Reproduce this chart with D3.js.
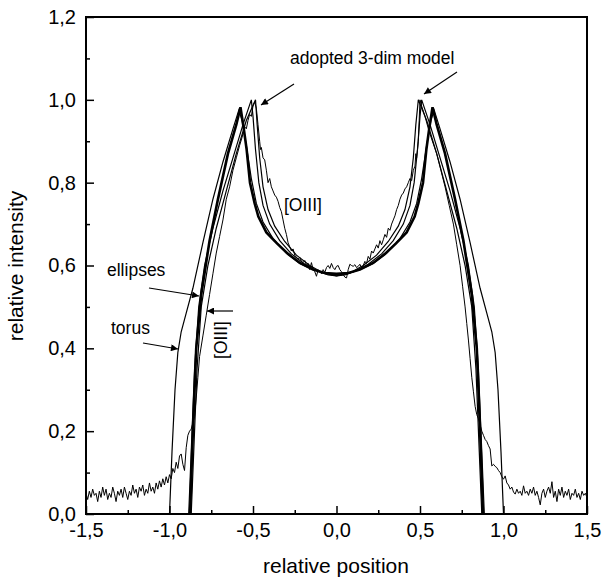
<!DOCTYPE html>
<html>
<head>
<meta charset="utf-8">
<script src="https://cdn.jsdelivr.net/npm/d3@7"></script>
<style>
  body { margin: 0; background: #fff; }
  svg text { font-family: "Liberation Sans", Arial, sans-serif; fill: #000; }
</style>
</head>
<body>
<svg id="chart" width="605" height="579"></svg>
<script>
// tick values
const xMajor = [-1.5, -1.0, -0.5, 0.0, 0.5, 1.0, 1.5];
const xMinor = [-1.25, -0.75, -0.25, 0.25, 0.75, 1.25];
const yMajor = [0.0, 0.2, 0.4, 0.6, 0.8, 1.0, 1.2];
const yMinor = [0.1, 0.3, 0.5, 0.7, 0.9, 1.1];

// observed [OIII] profile (noisy)
const observed = [
  [-1.50,0.050],[-1.49,0.035],[-1.48,0.055],[-1.47,0.040],[-1.46,0.060],[-1.45,0.045],[-1.44,0.050],[-1.43,0.030],
  [-1.42,0.055],[-1.41,0.040],[-1.40,0.065],[-1.39,0.045],[-1.38,0.060],[-1.37,0.035],[-1.36,0.050],[-1.35,0.040],
  [-1.34,0.065],[-1.33,0.050],[-1.32,0.030],[-1.31,0.055],[-1.30,0.045],[-1.29,0.060],[-1.28,0.040],[-1.27,0.065],
  [-1.26,0.050],[-1.25,0.035],[-1.24,0.055],[-1.23,0.045],[-1.22,0.070],[-1.21,0.050],[-1.20,0.060],[-1.19,0.040],
  [-1.18,0.065],[-1.17,0.055],[-1.16,0.070],[-1.15,0.045],[-1.14,0.060],[-1.13,0.050],[-1.12,0.075],[-1.11,0.055],
  [-1.10,0.065],[-1.09,0.050],[-1.08,0.075],[-1.07,0.060],[-1.06,0.080],[-1.05,0.065],[-1.04,0.085],[-1.03,0.070],
  [-1.02,0.090],[-1.01,0.075],[-1.00,0.095],[-0.99,0.085],[-0.98,0.110],[-0.97,0.100],[-0.96,0.125],[-0.95,0.110],
  [-0.94,0.140],[-0.93,0.145],[-0.92,0.120],[-0.91,0.105],[-0.90,0.160],[-0.89,0.190],[-0.88,0.200],[-0.87,0.205],
  [-0.86,0.220],[-0.85,0.235],[-0.84,0.280],[-0.83,0.330],[-0.82,0.380],[-0.80,0.430],[-0.78,0.480],[-0.76,0.530],
  [-0.74,0.580],[-0.72,0.630],[-0.70,0.670],[-0.68,0.710],[-0.66,0.760],[-0.64,0.790],[-0.62,0.830],[-0.60,0.860],
  [-0.58,0.890],[-0.565,0.910],[-0.55,0.935],[-0.54,0.930],[-0.53,0.950],[-0.52,0.965],[-0.51,0.960],[-0.50,0.985],
  [-0.49,0.995],[-0.48,0.980],[-0.47,0.940],[-0.46,0.900],[-0.455,0.880],[-0.45,0.885],[-0.44,0.860],[-0.43,0.855],
  [-0.42,0.830],[-0.41,0.800],[-0.40,0.810],[-0.39,0.790],[-0.38,0.780],[-0.37,0.770],[-0.36,0.765],[-0.35,0.755],
  [-0.34,0.740],[-0.33,0.730],[-0.32,0.710],[-0.31,0.690],[-0.30,0.675],[-0.29,0.655],[-0.28,0.645],[-0.27,0.635],
  [-0.26,0.640],[-0.25,0.625],[-0.24,0.620],[-0.23,0.615],[-0.22,0.620],[-0.21,0.610],[-0.20,0.607],[-0.19,0.612],
  [-0.18,0.600],[-0.17,0.605],[-0.16,0.590],[-0.15,0.607],[-0.14,0.590],[-0.13,0.585],[-0.12,0.574],[-0.11,0.590],
  [-0.10,0.585],[-0.09,0.580],[-0.08,0.590],[-0.07,0.583],[-0.06,0.595],[-0.05,0.600],[-0.04,0.593],[-0.03,0.605],
  [-0.02,0.595],[-0.01,0.590],[0.00,0.598],[0.01,0.600],[0.02,0.590],[0.03,0.585],[0.04,0.578],[0.05,0.572],
  [0.06,0.570],[0.07,0.590],[0.08,0.603],[0.09,0.600],[0.10,0.598],[0.11,0.602],[0.12,0.595],[0.13,0.598],
  [0.14,0.603],[0.15,0.594],[0.16,0.600],[0.17,0.610],[0.18,0.605],[0.19,0.622],[0.20,0.615],[0.21,0.635],
  [0.22,0.630],[0.23,0.640],[0.24,0.650],[0.25,0.642],[0.26,0.660],[0.27,0.650],[0.28,0.662],[0.29,0.675],
  [0.30,0.668],[0.31,0.690],[0.32,0.685],[0.33,0.700],[0.34,0.710],[0.35,0.720],[0.36,0.735],[0.37,0.745],
  [0.38,0.760],[0.39,0.770],[0.40,0.775],[0.41,0.785],[0.42,0.790],[0.43,0.800],[0.44,0.810],[0.45,0.805],
  [0.46,0.830],[0.47,0.840],[0.475,0.870],[0.48,0.860],[0.49,0.900],[0.495,0.950],[0.50,1.000],[0.51,0.985],
  [0.53,0.960],[0.55,0.930],[0.57,0.905],[0.60,0.870],[0.625,0.830],[0.65,0.790],[0.675,0.745],[0.70,0.700],
  [0.72,0.650],[0.74,0.600],[0.755,0.550],[0.77,0.500],[0.78,0.460],[0.79,0.420],[0.80,0.375],[0.81,0.330],
  [0.82,0.295],[0.83,0.260],[0.84,0.240],[0.85,0.230],[0.86,0.215],[0.87,0.200],[0.88,0.190],[0.89,0.180],
  [0.90,0.175],[0.91,0.165],[0.92,0.157],[0.93,0.116],[0.94,0.120],[0.95,0.115],[0.96,0.112],[0.97,0.105],
  [0.98,0.100],[0.99,0.090],[1.00,0.084],[1.01,0.092],[1.02,0.075],[1.03,0.070],[1.04,0.060],[1.05,0.065],
  [1.06,0.053],[1.07,0.048],[1.08,0.060],[1.09,0.050],[1.10,0.055],[1.11,0.045],[1.12,0.068],[1.13,0.050],
  [1.14,0.055],[1.15,0.045],[1.16,0.060],[1.17,0.050],[1.18,0.065],[1.19,0.045],[1.20,0.055],[1.21,0.040],
  [1.22,0.022],[1.23,0.050],[1.24,0.060],[1.25,0.040],[1.26,0.055],[1.27,0.065],[1.28,0.050],[1.29,0.078],
  [1.30,0.040],[1.31,0.055],[1.32,0.030],[1.33,0.060],[1.34,0.045],[1.35,0.065],[1.36,0.040],[1.37,0.055],
  [1.38,0.045],[1.39,0.060],[1.40,0.035],[1.41,0.050],[1.42,0.045],[1.43,0.060],[1.44,0.040],[1.45,0.050],
  [1.46,0.035],[1.47,0.055],[1.48,0.045],[1.49,0.050],[1.50,0.040]
];

// thick model curve
const thickModel = [
  [-0.877,0.0],[-0.86,0.20],[-0.84,0.40],[-0.81,0.53],[-0.76,0.66],[-0.71,0.76],[-0.65,0.87],[-0.60,0.94],
  [-0.575,0.982],[-0.555,0.93],[-0.538,0.88],[-0.518,0.80],[-0.49,0.75],[-0.468,0.718],[-0.42,0.68],[-0.358,0.654],
  [-0.29,0.628],[-0.219,0.606],[-0.14,0.59],[-0.07,0.582],[0.0,0.58],
  [0.07,0.582],[0.14,0.59],[0.219,0.606],[0.29,0.628],[0.358,0.654],[0.42,0.68],[0.468,0.718],[0.49,0.75],
  [0.518,0.80],[0.538,0.88],[0.555,0.93],[0.575,0.982],[0.60,0.94],[0.65,0.87],[0.71,0.76],[0.76,0.66],
  [0.81,0.53],[0.84,0.40],[0.86,0.20],[0.877,0.0]
];

// torus model
const torus = [
  [-1.0,0.0],[-0.985,0.15],[-0.967,0.30],[-0.95,0.39],[-0.93,0.44],[-0.90,0.485],[-0.86,0.545],[-0.80,0.655],
  [-0.74,0.76],[-0.68,0.85],[-0.62,0.93],[-0.585,0.975],[-0.565,0.95],[-0.54,0.89],[-0.51,0.81],[-0.48,0.75],
  [-0.44,0.705],[-0.38,0.665],[-0.30,0.63],[-0.22,0.605],[-0.14,0.59],[-0.06,0.58],[0.0,0.578],
  [0.06,0.58],[0.14,0.59],[0.22,0.605],[0.30,0.63],[0.38,0.665],[0.44,0.705],[0.48,0.75],[0.51,0.81],
  [0.54,0.89],[0.565,0.95],[0.585,0.975],[0.62,0.93],[0.68,0.85],[0.74,0.76],[0.80,0.655],[0.86,0.545],
  [0.90,0.485],[0.93,0.44],[0.95,0.39],[0.967,0.30],[0.985,0.15],[1.0,0.0]
];

// ellipses model
const ellipses = [
  [-0.885,0.0],[-0.87,0.15],[-0.85,0.35],[-0.825,0.50],[-0.79,0.60],[-0.74,0.69],[-0.68,0.78],[-0.62,0.86],
  [-0.56,0.94],[-0.51,1.0],[-0.50,0.96],[-0.485,0.88],[-0.465,0.80],[-0.44,0.745],[-0.40,0.70],[-0.34,0.66],
  [-0.27,0.628],[-0.19,0.603],[-0.11,0.586],[-0.05,0.577],[0.0,0.575],
  [0.05,0.577],[0.11,0.586],[0.19,0.603],[0.27,0.628],[0.34,0.66],[0.40,0.70],[0.44,0.745],[0.465,0.80],
  [0.485,0.88],[0.50,0.96],[0.51,1.0],[0.56,0.94],[0.62,0.86],[0.68,0.78],[0.74,0.69],[0.79,0.60],
  [0.825,0.50],[0.85,0.35],[0.87,0.15],[0.885,0.0]
];

// adopted 3-dim model
const adopted = [
  [-0.87,0.0],[-0.855,0.15],[-0.835,0.35],[-0.81,0.50],[-0.77,0.60],[-0.72,0.69],[-0.66,0.78],[-0.60,0.87],
  [-0.54,0.95],[-0.485,1.0],[-0.475,0.94],[-0.46,0.86],[-0.44,0.79],[-0.41,0.735],[-0.37,0.695],[-0.31,0.658],
  [-0.24,0.625],[-0.16,0.60],[-0.08,0.582],[0.0,0.575],
  [0.08,0.582],[0.16,0.60],[0.24,0.625],[0.31,0.658],[0.37,0.695],[0.41,0.735],[0.44,0.79],[0.46,0.86],
  [0.475,0.94],[0.49,1.0],[0.54,0.95],[0.60,0.87],[0.66,0.78],[0.72,0.69],[0.77,0.60],[0.81,0.50],
  [0.835,0.35],[0.855,0.15],[0.87,0.0]
];

const svg = d3.select('#chart');
const x = d3.scaleLinear().domain([-1.5, 1.5]).range([86, 587]);
const y = d3.scaleLinear().domain([0, 1.2]).range([514, 17]);
const locale = d3.formatLocale({ decimal: ',', thousands: '.', grouping: [3], currency: ['', ''], minus: '-' });
const fmt = locale.format('.1f');

svg.append('defs').append('marker')
    .attr('id', 'arrow')
    .attr('viewBox', '0 0 10 10')
    .attr('refX', 10).attr('refY', 5)
    .attr('markerWidth', 12).attr('markerHeight', 7)
    .attr('markerUnits', 'userSpaceOnUse')
    .attr('orient', 'auto')
    .append('path').attr('d', 'M0,0 L10,5 L0,10 z').attr('fill', '#000');

const line = d3.line().x(d => x(d[0])).y(d => y(d[1]));

const plot = svg.append('g');
plot.append('path').datum(observed).attr('d', line)
    .attr('fill', 'none').attr('stroke', '#000').attr('stroke-width', 1);
[torus, ellipses, adopted].forEach(s => {
    plot.append('path').datum(s).attr('d', line)
        .attr('fill', 'none').attr('stroke', '#000').attr('stroke-width', 1.2);
});
plot.append('path').datum(thickModel).attr('d', line)
    .attr('fill', 'none').attr('stroke', '#000').attr('stroke-width', 2.6);

// axes
svg.append('g').attr('transform', 'translate(0,514)')
    .call(d3.axisBottom(x).tickValues(xMajor).tickSize(-8).tickPadding(9).tickFormat(fmt));
svg.append('g').attr('transform', 'translate(0,514)')
    .call(d3.axisBottom(x).tickValues(xMinor).tickSize(-4).tickFormat(''));
svg.append('g').attr('transform', 'translate(86,0)')
    .call(d3.axisLeft(y).tickValues(yMajor).tickSize(-8).tickPadding(10).tickFormat(fmt));
svg.append('g').attr('transform', 'translate(86,0)')
    .call(d3.axisLeft(y).tickValues(yMinor).tickSize(-4).tickFormat(''));
svg.selectAll('.domain').remove();
svg.selectAll('.tick line').attr('stroke', '#000').attr('stroke-width', 1.5);
svg.selectAll('.tick text').attr('font-size', 20).attr('font-family', '"Liberation Sans", Arial, sans-serif');

svg.append('rect')
    .attr('x', 86).attr('y', 17).attr('width', 501).attr('height', 497)
    .attr('fill', 'none').attr('stroke', '#000').attr('stroke-width', 2);

svg.append('text').attr('x', 336).attr('y', 573).attr('text-anchor', 'middle')
    .attr('font-size', 21).text('relative position');
svg.append('text').attr('transform', 'translate(23,266) rotate(-90)').attr('text-anchor', 'middle')
    .attr('font-size', 21).text('relative intensity');

// annotations
const ann = svg.append('g').attr('font-size', 17.5);
ann.append('text').attr('x', 290).attr('y', 64).text('adopted 3-dim model');
ann.append('text').attr('x', 284).attr('y', 211).text('[OIII]');
ann.append('text').attr('x', 107).attr('y', 276).text('ellipses');
ann.append('text').attr('x', 111).attr('y', 334).text('torus');
ann.append('text').attr('transform', 'translate(227,340) rotate(-90)').attr('text-anchor', 'middle').text('[OIII]');

const arrows = [
    [294, 84, 261, 105],
    [457, 72, 424, 94],
    [149, 288, 199, 296],
    [143, 343, 178, 349],
    [233, 311, 207, 311]
];
arrows.forEach(a => {
    svg.append('line').attr('x1', a[0]).attr('y1', a[1]).attr('x2', a[2]).attr('y2', a[3])
        .attr('stroke', '#000').attr('stroke-width', 1.2).attr('marker-end', 'url(#arrow)');
});
</script>
</body>
</html>
